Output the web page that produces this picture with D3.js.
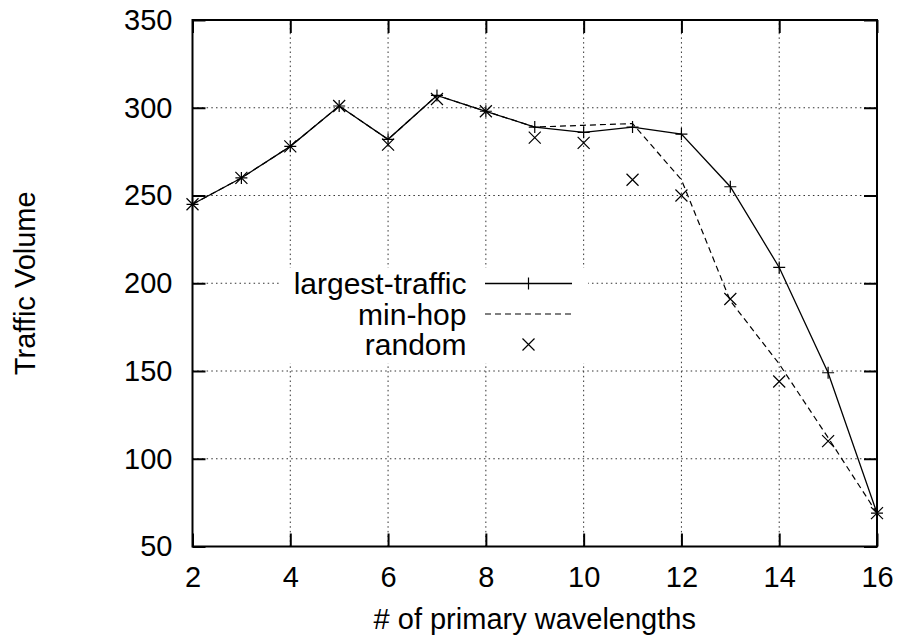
<!DOCTYPE html>
<html><head><meta charset="utf-8">
<script src="https://cdn.jsdelivr.net/npm/d3@7/dist/d3.min.js"></script>
<style>body{margin:0;background:#fff} svg{display:block}</style>
</head><body>
<svg id="chart" width="898" height="643"></svg>
<script>
// ---- data ----
const wavelengths = [2,3,4,5,6,7,8,9,10,11,12,13,14,15,16];
const largestTraffic = [245,260,278,301,282,307,298,289,286,289,285,255,209,149,69];
const minHop         = [245,260,278,301,282,307,298,289,290,291,259,190,154,112,69];
const randomSel      = [245,260,278,301,279,305,298,283,280,259,250,191,144,110,69];
const seriesNames = ["largest-traffic","min-hop","random"];
const xTickValues = [2,4,6,8,10,12,14,16];
const yTickValues = [50,100,150,200,250,300,350];
const xTitle = "# of primary wavelengths";
const yTitle = "Traffic Volume";

// ---- layout ----
const FONT = "'Liberation Sans', Arial, Helvetica, sans-serif";
const FS = 29;
const box = {left:192.5, right:877, top:20, bottom:546.5};
const svg = d3.select("#chart");
const x = d3.scaleLinear().domain([2,16]).range([box.left, box.right]);
const y = d3.scaleLinear().domain([50,350]).range([box.bottom, box.top]);

// grid
const grid = svg.append("g").attr("stroke","#000").attr("stroke-width",1)
  .attr("stroke-dasharray","1.5,3.2").attr("opacity",0.8);
grid.selectAll("line.gx").data(xTickValues.filter(v=>v>2&&v<16)).join("line")
  .attr("x1",d=>x(d)).attr("x2",d=>x(d)).attr("y1",box.bottom).attr("y2",box.top);
grid.selectAll("line.gy").data(yTickValues.filter(v=>v>50&&v<350)).join("line")
  .attr("y1",d=>y(d)).attr("y2",d=>y(d)).attr("x1",box.left).attr("x2",box.right);

// opaque key area
svg.append("rect").attr("x",281).attr("y",268).attr("width",588-281).attr("height",363-268).attr("fill","#fff");

// axes
function styleAxis(g){
  g.select(".domain").remove();
  g.selectAll(".tick line").attr("stroke","#000").attr("stroke-width",2);
  g.selectAll("text").attr("font-family",FONT).attr("font-size",FS).attr("fill","#000");
}
svg.append("g").attr("transform",`translate(0,${box.bottom})`)
  .call(d3.axisBottom(x).tickValues(xTickValues).tickSize(-13).tickPadding(20)).call(styleAxis);
svg.append("g").attr("transform",`translate(0,${box.top})`)
  .call(d3.axisTop(x).tickValues(xTickValues).tickSize(-13).tickFormat("")).call(styleAxis);
svg.append("g").attr("transform",`translate(${box.left},0)`)
  .call(d3.axisLeft(y).tickValues(yTickValues).tickSize(-13).tickPadding(20)).call(styleAxis);
svg.append("g").attr("transform",`translate(${box.right},0)`)
  .call(d3.axisRight(y).tickValues(yTickValues).tickSize(-13).tickFormat("")).call(styleAxis);

// border
svg.append("rect").attr("x",box.left).attr("y",box.top)
  .attr("width",box.right-box.left).attr("height",box.bottom-box.top)
  .attr("fill","none").attr("stroke","#000").attr("stroke-width",2);

// titles
svg.append("text").attr("x",(box.left+box.right)/2).attr("y",629).attr("text-anchor","middle")
  .attr("font-family",FONT).attr("font-size",FS).text(xTitle);
svg.append("text").attr("transform",`translate(35,${(box.top+box.bottom)/2}) rotate(-90)`)
  .attr("text-anchor","middle").attr("font-family",FONT).attr("font-size",FS).text(yTitle);

// series
const pts = arr => arr.map((v,i)=>[wavelengths[i], v]);
const line = d3.line().x(d=>x(d[0])).y(d=>y(d[1]));
svg.append("path").attr("d",line(pts(minHop))).attr("fill","none").attr("stroke","#000")
  .attr("stroke-width",1.2).attr("stroke-dasharray","6,4");
svg.append("path").attr("d",line(pts(largestTraffic))).attr("fill","none").attr("stroke","#000")
  .attr("stroke-width",1.3);

const S = 6;
const plusPath = (cx,cy)=>`M${cx-S},${cy}H${cx+S}M${cx},${cy-S}V${cy+S}`;
const crossPath = (cx,cy)=>`M${cx-S},${cy-S}L${cx+S},${cy+S}M${cx-S},${cy+S}L${cx+S},${cy-S}`;
svg.append("g").selectAll("path").data(pts(largestTraffic)).join("path")
  .attr("d",d=>plusPath(x(d[0]),y(d[1]))).attr("stroke","#000").attr("stroke-width",1.2).attr("fill","none");
svg.append("g").selectAll("path").data(pts(randomSel)).join("path")
  .attr("d",d=>crossPath(x(d[0]),y(d[1]))).attr("stroke","#000").attr("stroke-width",1.2).attr("fill","none");

// legend
const key = svg.append("g");
const rows = [283.5, 314, 344.5];
const sx1 = 485, sx2 = 572, smid = 528.5;
seriesNames.forEach((name,i)=>{
  key.append("text").attr("x",466.5).attr("y",rows[i]).attr("dy","0.35em").attr("text-anchor","end")
    .attr("font-family",FONT).attr("font-size",30).text(name);
});
key.append("line").attr("x1",sx1).attr("x2",sx2).attr("y1",rows[0]).attr("y2",rows[0])
  .attr("stroke","#000").attr("stroke-width",1.3);
key.append("path").attr("d",plusPath(smid,rows[0])).attr("stroke","#000").attr("stroke-width",1.2);
key.append("line").attr("x1",sx1).attr("x2",sx2).attr("y1",rows[1]).attr("y2",rows[1])
  .attr("stroke","#000").attr("stroke-width",1.2).attr("stroke-dasharray","6,4");
key.append("path").attr("d",crossPath(smid,rows[2])).attr("stroke","#000").attr("stroke-width",1.2);
</script>
</body></html>
